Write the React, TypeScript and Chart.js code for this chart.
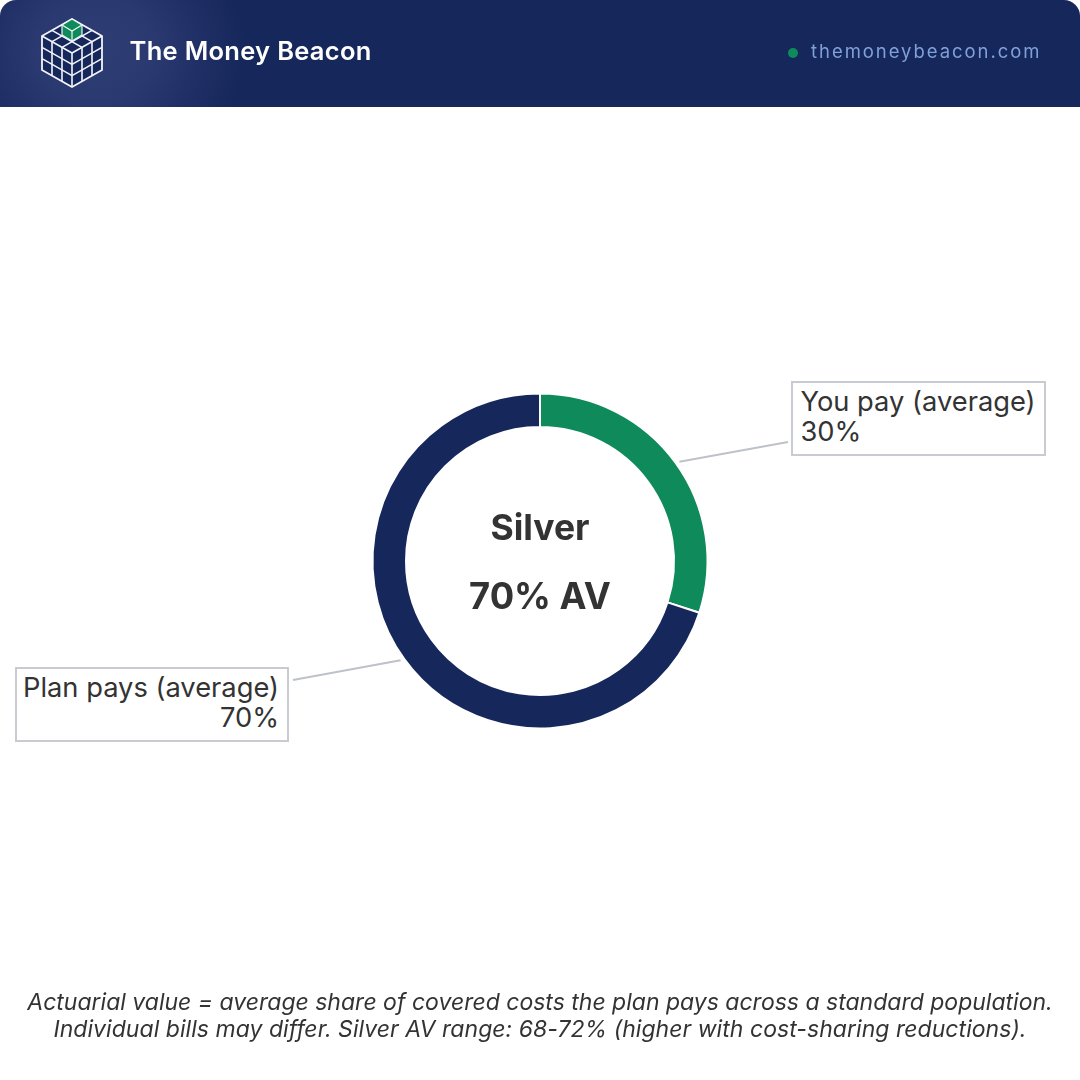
import React, { useEffect, useRef } from "react";
import { Chart, registerables } from "chart.js";

Chart.register(...registerables);

const categories = ["You pay (average)", "Plan pays (average)"];
const shareValues = [30, 70];
const sliceColors = ["#0F8A5B", "#16275C"];
const centerTitle = "Silver";
const centerValue = "70% AV";
const brandName = "The Money Beacon";
const brandUrl = "themoneybeacon.com";
const footnoteLines = [
  "Actuarial value = average share of covered costs the plan pays across a standard population.",
  "Individual bills may differ. Silver AV range: 68-72% (higher with cost-sharing reductions).",
];

const FONT = "Inter, 'Noto Sans', sans-serif";
const leaderEnds = [
  { x: 788, y: 442 },
  { x: 293, y: 680 },
];

const leaderPlugin = {
  id: "leaders",
  afterDatasetsDraw(chart: any) {
    const ctx = chart.ctx;
    chart.getDatasetMeta(0).data.forEach((arc: any, i: number) => {
      const mid = (arc.startAngle + arc.endAngle) / 2 + 0.0096;
      const r = arc.outerRadius + 3.6;
      ctx.save();
      ctx.strokeStyle = "#BEC2C8";
      ctx.lineWidth = 2;
      ctx.beginPath();
      ctx.moveTo(arc.x + Math.cos(mid) * r, arc.y + Math.sin(mid) * r);
      ctx.lineTo(leaderEnds[i].x, leaderEnds[i].y);
      ctx.stroke();
      ctx.restore();
    });
  },
};

function Logo() {
  const T = [72, 19], R = [102, 36], C = [72, 53], L = [42, 36], B = [72, 87], LB = [42, 70], RB = [102, 70];
  const lerp = (a: number[], b: number[], t: number) => [a[0] + (b[0] - a[0]) * t, a[1] + (b[1] - a[1]) * t];
  const lines: number[][][] = [];
  const face = (p: number[], q: number[], r: number[], s: number[]) => {
    [1 / 3, 2 / 3].forEach((t) => {
      lines.push([lerp(p, q, t), lerp(s, r, t)]);
      lines.push([lerp(p, s, t), lerp(q, r, t)]);
    });
  };
  face(T, R, C, L);
  face(L, C, B, LB);
  face(C, R, RB, B);
  const poly = (pts: number[][]) => pts.map((p) => p.join(",")).join(" ");
  return (
    <svg width={120} height={107} style={{ position: "absolute", left: 0, top: 0 }}>
      <polygon points={poly([T, R, RB, B, LB, L])} fill="#16275C" stroke="#F2F4F8" strokeWidth={1.8} strokeLinejoin="round" />
      <g stroke="#F2F4F8" strokeWidth={1.6}>
        {lines.map((l, i) => (
          <line key={i} x1={l[0][0]} y1={l[0][1]} x2={l[1][0]} y2={l[1][1]} />
        ))}
        <line x1={L[0]} y1={L[1]} x2={C[0]} y2={C[1]} />
        <line x1={R[0]} y1={R[1]} x2={C[0]} y2={C[1]} />
        <line x1={C[0]} y1={C[1]} x2={B[0]} y2={B[1]} />
      </g>
      <polygon points="72,19 82,25 82,35 72,41 62,35 62,25" fill="#0F8A5B" stroke="#F2F4F8" strokeWidth={1.2} />
      <polyline points="62,25 72,31 82,25" fill="none" stroke="#F2F4F8" strokeWidth={1.2} />
      <line x1={72} y1={31} x2={72} y2={41} stroke="#F2F4F8" strokeWidth={1.2} />
    </svg>
  );
}

const boxStyle: React.CSSProperties = {
  position: "absolute",
  boxSizing: "border-box",
  background: "#fff",
  border: "2px solid #C8CCD2",
  font: `400 27.3px/30px ${FONT}`,
  color: "#333333",
  whiteSpace: "nowrap",
  height: 75,
  paddingTop: 4,
};

const abs = (left: number, top: number, extra: React.CSSProperties): React.CSSProperties => ({
  position: "absolute",
  left,
  top,
  whiteSpace: "nowrap",
  ...extra,
});

export default function App() {
  const ref = useRef<HTMLCanvasElement>(null);
  useEffect(() => {
    document.body.style.margin = "0";
    const chart = new Chart(ref.current!, {
      type: "doughnut",
      data: {
        labels: categories,
        datasets: [{ data: shareValues, backgroundColor: sliceColors, borderColor: "#FFFFFF", borderWidth: 2 }],
      },
      options: {
        responsive: false,
        animation: false,
        radius: 167.5,
        cutout: "80%",
        layout: { padding: { top: 42 } },
        plugins: { legend: { display: false }, tooltip: { enabled: false } },
      } as any,
      plugins: [leaderPlugin],
    });
    return () => chart.destroy();
  }, []);

  return (
    <div style={{ position: "relative", width: 1080, height: 1080, background: "#fff", overflow: "hidden" }}>
      <canvas ref={ref} width={1080} height={1080} style={{ position: "absolute", left: 0, top: 0, width: 1080, height: 1080 }} />

      <div
        style={{
          position: "absolute", left: 0, top: 0, width: 1080, height: 107,
          borderRadius: "16px 16px 0 0",
          background: "radial-gradient(ellipse 150px 130px at 95px 50px, #2E3D74 0%, #2A3970 40%, #16275C 100%)",
        }}
      >
        <Logo />
        <div style={abs(129.5, 35, { font: `600 25.5px/32px ${FONT}`, letterSpacing: 0.3, color: "#FFFFFF" })}>{brandName}</div>
        <div style={{ position: "absolute", left: 788, top: 48, width: 10, height: 10, borderRadius: 5, background: "#0F8A5B" }} />
        <div style={abs(811, 39, { font: `400 18.5px/24px ${FONT}`, letterSpacing: 1.95, color: "#7FA0D8" })}>{brandUrl}</div>
      </div>

      <div style={{ ...abs(440, 507, { font: `700 35.5px/42px ${FONT}`, color: "#333333", width: 200, textAlign: "center" }) }}>{centerTitle}</div>
      <div style={{ ...abs(440, 575, { font: `700 36.3px/42px ${FONT}`, color: "#333333", width: 200, textAlign: "center" }) }}>{centerValue}</div>

      <div style={{ ...boxStyle, left: 791, top: 381, width: 255, paddingLeft: 7.5, textAlign: "left" }}>
        {categories[0]}
        <br />
        {shareValues[0]}%
      </div>
      <div style={{ ...boxStyle, left: 15, top: 667, width: 274, paddingRight: 8, textAlign: "right" }}>
        {categories[1]}
        <br />
        {shareValues[1]}%
      </div>

      {footnoteLines.map((t, i) => (
        <div key={i} style={{ ...abs(0, 988 + i * 27, { width: 1080, textAlign: "center", font: `italic 400 23px/28px ${FONT}`, letterSpacing: i === 1 ? 0.044 : 0, color: "#333333" }) }}>{t}</div>
      ))}
    </div>
  );
}
